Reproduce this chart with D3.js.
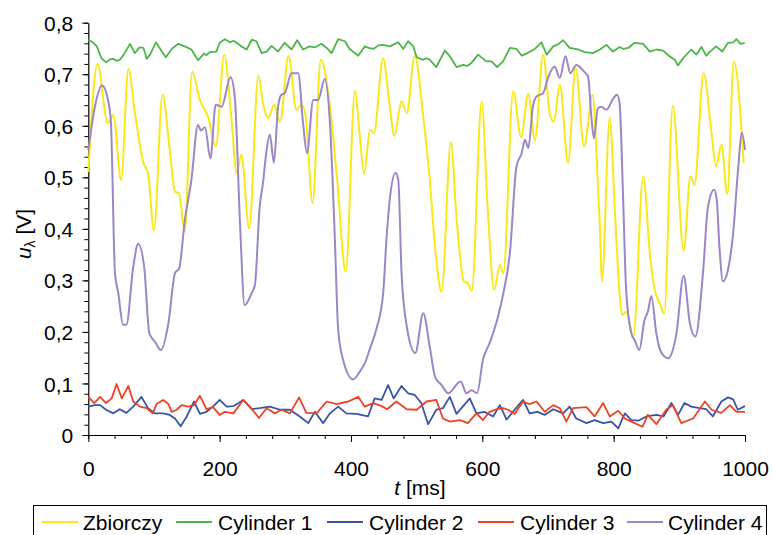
<!DOCTYPE html>
<html>
<head>
<meta charset="utf-8">
<script src="https://cdn.jsdelivr.net/npm/d3@7"></script>
<style>
  html, body { margin: 0; padding: 0; background: #fff; }
  svg { display: block; font-family: "Liberation Sans", Arial, sans-serif; }
</style>
</head>
<body>
<svg id="chart" width="773" height="535"></svg>
<script>
// Lambda-probe voltage over time, [t ms, u V] samples per channel
const zbiorczy = [[0,0.51],[14,0.720],[29.5,0.605],[38,0.621],[50,0.495],[61,0.710],[71,0.625],[84,0.528],[91,0.508],[100,0.397],[113,0.660],[124,0.553],[132,0.472],[138,0.469],[147,0.395],[158,0.705],[170,0.650],[183,0.615],[194,0.560],[207,0.738],[218,0.612],[226,0.508],[233,0.544],[245,0.401],[259,0.697],[266,0.644],[274,0.615],[283,0.641],[292,0.608],[305,0.736],[317,0.631],[325,0.641],[331,0.618],[341.5,0.450],[354,0.728],[368,0.637],[379,0.495],[392,0.317],[406,0.667],[413.5,0.579],[420,0.507],[429,0.592],[435,0.586],[449,0.731],[458,0.650],[466,0.581],[477,0.647],[485,0.625],[497,0.736],[510,0.618],[520,0.495],[528,0.366],[538,0.278],[552,0.568],[561,0.417],[572,0.298],[578,0.294],[584,0.280],[599,0.647],[608,0.443],[618,0.282],[627,0.330],[632,0.314],[647,0.667],[659,0.578],[670,0.662],[680,0.571],[692.5,0.738],[703,0.621],[709,0.608],[718,0.680],[730.6,0.528],[742,0.712],[755,0.560],[768,0.660],[774,0.540],[779,0.404],[782,0.298],[794,0.615],[802,0.430],[809,0.275],[813,0.233],[819,0.239],[830,0.191],[845,0.502],[855,0.353],[862.5,0.282],[870,0.256],[877,0.236],[890,0.639],[906.6,0.358],[917,0.502],[923,0.485],[937,0.702],[949,0.586],[956,0.521],[964,0.563],[973,0.468],[983,0.725],[998,0.528]];

const cylinder1 = [[0,0.767],[7,0.762],[13,0.754],[20,0.731],[27,0.723],[33,0.729],[38,0.730],[43,0.726],[48,0.728],[54,0.738],[63.5,0.759],[71,0.741],[78,0.752],[84,0.751],[89,0.730],[94,0.738],[103,0.762],[112,0.744],[118,0.733],[127,0.749],[137,0.759],[147,0.754],[157,0.748],[167,0.727],[176,0.740],[180,0.737],[185,0.743],[195,0.744],[200,0.761],[208,0.768],[216,0.762],[221,0.765],[226,0.761],[233.5,0.754],[241,0.748],[249,0.767],[256,0.764],[264,0.741],[271.5,0.744],[279,0.755],[289,0.744],[299,0.761],[309.6,0.748],[318,0.766],[327,0.748],[337,0.754],[345,0.752],[355,0.759],[363,0.751],[370.5,0.741],[380.5,0.768],[390.7,0.764],[398,0.749],[411,0.736],[421,0.754],[427,0.751],[434,0.749],[442,0.756],[449,0.757],[459,0.754],[472,0.762],[479.5,0.749],[487,0.764],[495,0.754],[500,0.733],[510,0.728],[515,0.731],[520,0.728],[530,0.714],[543,0.746],[550.5,0.735],[560.7,0.714],[571,0.718],[577,0.716],[583.5,0.722],[593.6,0.738],[606,0.725],[614,0.725],[622.5,0.714],[631.6,0.725],[642,0.751],[652,0.749],[660,0.736],[667,0.740],[680,0.749],[690,0.762],[698,0.738],[708,0.754],[715,0.758],[723,0.766],[733,0.751],[746,0.748],[756,0.743],[768.6,0.741],[779,0.748],[789,0.757],[799,0.744],[809,0.753],[815,0.749],[822,0.751],[832,0.761],[845,0.759],[855,0.744],[865,0.748],[875,0.746],[885,0.735],[893,0.728],[898,0.717],[905.5,0.731],[918,0.748],[926,0.738],[933.6,0.753],[941,0.736],[946,0.743],[956,0.754],[965.5,0.744],[974,0.761],[982,0.762],[987,0.768],[993,0.759],[999.5,0.761]];

const cylinder2 = [[0,0.055],[10,0.058],[18,0.058],[27,0.049],[38,0.042],[48,0.050],[58,0.043],[68.5,0.055],[81,0.074],[91,0.052],[101.5,0.042],[114,0.042],[124,0.039],[132,0.032],[140.6,0.017],[150,0.036],[161,0.065],[170,0.041],[180,0.045],[190,0.055],[200,0.068],[210.6,0.055],[221,0.056],[236,0.068],[248.6,0.050],[261,0.052],[276.5,0.055],[292,0.049],[307,0.049],[322,0.036],[335,0.023],[345,0.045],[357.6,0.023],[368,0.042],[380.5,0.055],[393,0.042],[408.5,0.041],[426,0.036],[436,0.071],[446.6,0.068],[456.6,0.097],[465,0.071],[477,0.095],[487,0.081],[497,0.078],[507,0.062],[517.5,0.021],[530,0.049],[540,0.052],[550.5,0.074],[560.7,0.041],[581,0.071],[591,0.042],[603,0.045],[616.5,0.036],[626.6,0.058],[637,0.030],[649,0.049],[662,0.068],[672,0.042],[684,0.045],[695,0.039],[708,0.050],[723,0.042],[733,0.055],[743,0.032],[758.6,0.023],[771,0.029],[784,0.023],[796.6,0.026],[807,0.013],[817,0.042],[827,0.029],[838,0.028],[850,0.036],[865,0.039],[876,0.036],[888,0.062],[898,0.039],[908,0.062],[918,0.055],[931,0.052],[941,0.050],[951,0.036],[964,0.065],[974,0.073],[982,0.069],[989,0.049],[1000,0.056]];

const cylinder3 = [[0,0.074],[9,0.062],[18,0.074],[27,0.062],[35.6,0.071],[43,0.099],[51,0.071],[61,0.095],[68.5,0.065],[78.7,0.055],[89,0.052],[98,0.042],[104,0.060],[114,0.068],[122,0.060],[127,0.045],[134.5,0.049],[142,0.058],[152,0.055],[161,0.058],[170,0.076],[180,0.050],[190,0.054],[200,0.039],[208,0.045],[221,0.042],[236,0.068],[246,0.055],[260,0.033],[271.5,0.052],[284,0.042],[294,0.049],[307,0.042],[321,0.073],[332,0.043],[347.6,0.042],[363,0.065],[378,0.060],[396,0.065],[411,0.074],[421,0.055],[434,0.062],[446.6,0.056],[455,0.050],[469,0.065],[485,0.050],[500,0.049],[515,0.065],[530,0.068],[540,0.032],[550.5,0.026],[566,0.029],[578,0.023],[591,0.042],[601,0.029],[611,0.045],[621.6,0.050],[631.6,0.052],[639,0.049],[649,0.041],[662,0.065],[672,0.060],[682.5,0.065],[695,0.045],[708,0.058],[718,0.052],[728,0.026],[738,0.052],[758.6,0.054],[771,0.036],[784,0.062],[794,0.036],[807,0.047],[817,0.032],[827,0.026],[844,0.016],[852,0.039],[865,0.021],[880,0.049],[890,0.058],[903,0.023],[921,0.032],[939,0.065],[949,0.049],[964,0.043],[977,0.058],[987,0.045],[1000,0.045]];

const cylinder4 = [[0,0.553],[10,0.637],[21,0.678],[30.5,0.647],[34.5,0.605],[40.6,0.314],[45.7,0.275],[53,0.214],[58,0.214],[68.5,0.327],[76,0.371],[85,0.327],[93,0.197],[101.5,0.181],[110.6,0.165],[122,0.217],[132,0.314],[138.5,0.324],[147,0.417],[157,0.495],[167,0.602],[171.5,0.591],[177.6,0.597],[186,0.537],[194,0.641],[203,0.637],[216.6,0.694],[223,0.657],[231,0.411],[238,0.252],[248.6,0.275],[253.7,0.291],[261,0.443],[266,0.489],[271.5,0.553],[276.5,0.583],[282.6,0.528],[289,0.637],[294,0.660],[299,0.663],[309.6,0.702],[319.6,0.702],[327,0.605],[333,0.547],[342.5,0.650],[350,0.650],[360,0.691],[368,0.605],[375.5,0.379],[380.5,0.204],[388,0.146],[403,0.108],[413.5,0.123],[421,0.139],[429,0.168],[439,0.207],[449,0.275],[454,0.379],[459,0.456],[468,0.509],[472,0.495],[477,0.314],[485,0.210],[498,0.159],[510,0.236],[520,0.171],[528,0.113],[538,0.097],[548,0.081],[567,0.104],[576,0.081],[583.5,0.087],[592,0.081],[601,0.146],[611,0.178],[624,0.230],[632,0.275],[642,0.353],[652,0.521],[660,0.547],[665,0.573],[670,0.557],[677,0.637],[682.5,0.657],[692.5,0.663],[700,0.693],[710,0.715],[718,0.693],[726.6,0.735],[734,0.702],[743,0.718],[755,0.705],[761,0.696],[766,0.618],[770,0.576],[776,0.634],[781,0.637],[789,0.631],[799,0.652],[805,0.660],[809,0.644],[814,0.476],[819,0.282],[827,0.197],[832,0.184],[839,0.165],[847,0.223],[852,0.239],[857.5,0.269],[865,0.197],[873,0.159],[883,0.149],[895.6,0.197],[906.6,0.309],[916,0.217],[924.5,0.191],[936,0.314],[943.6,0.443],[953,0.476],[957,0.456],[961,0.366],[966.5,0.298],[974,0.320],[982,0.392],[989,0.508],[995.4,0.586],[1000,0.553]];

const seriesNames = ["Zbiorczy", "Cylinder 1", "Cylinder 2", "Cylinder 3", "Cylinder 4"];
const seriesData = [zbiorczy, cylinder1, cylinder2, cylinder3, cylinder4];
const seriesColors = ["#F9E816", "#4CB648", "#3A53A4", "#EF4123", "#9C86C6"];

const yMajorTicks = [0, 0.1, 0.2, 0.3, 0.4, 0.5, 0.6, 0.7, 0.8];
const xMajorTicks = [0, 200, 400, 600, 800, 1000];

const FONT = "'Liberation Sans', Arial, sans-serif";
const FS = 21;

const svg = d3.select("#chart");

const x = d3.scaleLinear().domain([0, 1000]).range([88.3, 745]);
const y = d3.scaleLinear().domain([0, 0.8]).range([435, 22.7]);

const fmtY = v => v === 0 ? "0" : d3.format(".1f")(v).replace(".", ",");

// minor ticks
svg.append("g")
  .attr("transform", `translate(${x(0)},0)`)
  .call(d3.axisLeft(y).tickValues(d3.range(0, 0.8001, 0.02)).tickSize(4).tickSizeOuter(0).tickFormat(""))
  .call(g => g.select(".domain").remove())
  .call(g => g.selectAll("line").attr("stroke", "#000"));

svg.append("g")
  .attr("transform", `translate(0,${y(0)})`)
  .call(d3.axisBottom(x).tickValues(d3.range(0, 1001, 40)).tickSize(4).tickSizeOuter(0).tickFormat(""))
  .call(g => g.select(".domain").remove())
  .call(g => g.selectAll("line").attr("stroke", "#000"));

// major axes
const yAxis = svg.append("g")
  .attr("transform", `translate(${x(0)},0)`)
  .call(d3.axisLeft(y).tickValues(yMajorTicks).tickSize(6).tickSizeOuter(0).tickPadding(9).tickFormat(fmtY));
yAxis.select(".domain").attr("stroke", "#000").attr("stroke-width", 1.2);
yAxis.selectAll("line").attr("stroke", "#000");
yAxis.selectAll("text")
  .attr("font-family", FONT)
  .attr("font-size", FS).attr("fill", "#000").attr("dy", "0.36em");

const xAxis = svg.append("g")
  .attr("transform", `translate(0,${y(0)})`)
  .call(d3.axisBottom(x).tickValues(xMajorTicks).tickSize(7).tickSizeOuter(0).tickPadding(19).tickFormat(d3.format("d")));
xAxis.select(".domain").attr("stroke", "#000").attr("stroke-width", 1.2);
xAxis.selectAll("line").attr("stroke", "#000");
xAxis.selectAll("text")
  .attr("font-family", FONT)
  .attr("font-size", FS).attr("fill", "#000");

// series lines: smooth curves for the sum and cylinder 4, raw polylines for the noisy channels
const smoothLine = d3.line()
  .x(d => x(d[0]))
  .y(d => y(d[1]))
  .curve(d3.curveMonotoneX);
const rawLine = d3.line()
  .x(d => x(d[0]))
  .y(d => y(d[1]));

const plot = svg.append("g");
seriesData.forEach((data, i) => {
  const smooth = i === 0 || i === 4;
  plot.append("path")
    .datum(data)
    .attr("fill", "none")
    .attr("stroke", seriesColors[i])
    .attr("stroke-width", smooth ? 2 : 1.8)
    .attr("stroke-linejoin", "round")
    .attr("d", smooth ? smoothLine : rawLine);
});

// axis titles
const yTitle = svg.append("text")
  .attr("transform", "translate(31,234) rotate(-90)")
  .attr("text-anchor", "middle")
  .attr("font-size", FS)
  .attr("fill", "#000");
yTitle.append("tspan").attr("font-style", "italic").text("u");
yTitle.append("tspan").attr("font-size", 14).attr("dy", 4).text("λ");
yTitle.append("tspan").attr("dy", -4).text(" [V]");

const xTitle = svg.append("text")
  .attr("x", 420).attr("y", 495)
  .attr("text-anchor", "middle")
  .attr("font-size", FS)
  .attr("fill", "#000");
xTitle.append("tspan").attr("font-style", "italic").text("t");
xTitle.append("tspan").text(" [ms]");

// legend
svg.append("rect")
  .attr("x", 33.5).attr("y", 505.5)
  .attr("width", 733).attr("height", 40)
  .attr("fill", "none").attr("stroke", "#000").attr("stroke-width", 1);

const legendLineX = [42, 176, 327, 478, 627];
const legendTextX = [83, 218, 369, 520, 668];
const legend = svg.append("g");
seriesNames.forEach((name, i) => {
  legend.append("line")
    .attr("x1", legendLineX[i]).attr("x2", legendLineX[i] + 36)
    .attr("y1", 522).attr("y2", 522)
    .attr("stroke", seriesColors[i]).attr("stroke-width", 2);
  legend.append("text")
    .attr("x", legendTextX[i]).attr("y", 530)
    .attr("font-family", FONT)
    .attr("font-size", FS).attr("fill", "#000")
    .text(name);
});
</script>
</body>
</html>
